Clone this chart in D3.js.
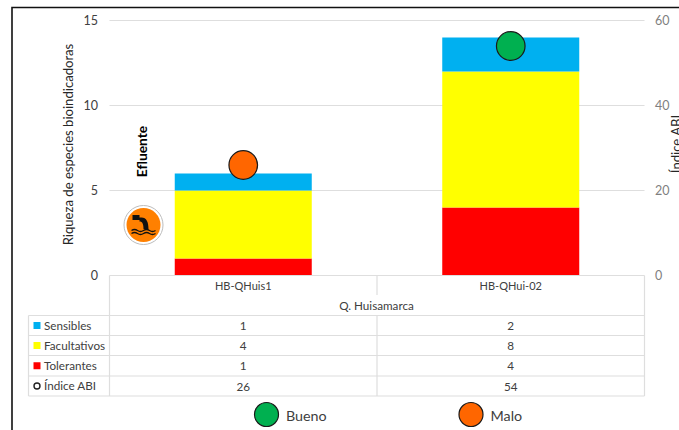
<!DOCTYPE html>
<html>
<head>
<meta charset="utf-8">
<script src="https://cdn.jsdelivr.net/npm/d3@7"></script>
<style>
html,body{margin:0;padding:0;background:#fff;overflow:hidden}
svg{display:block}
text{font-family:Lato,"Open Sans",sans-serif}
</style>
</head>
<body>
<svg id="chart" width="679" height="430"></svg>
<script>
const categories = ["HB-QHuis1", "HB-QHui-02"];
const groupLabel = "Q. Huisamarca";
const seriesNames = ["Tolerantes", "Facultativos", "Sensibles"];
const tolerantes = [1, 4];
const facultativos = [4, 8];
const sensibles = [1, 2];
const indiceABI = [26, 54];
const abiClass = ["Malo", "Bueno"];
const leftTicks = [0, 5, 10, 15];
const rightTicks = [0, 20, 40, 60];
const seriesColors = { Tolerantes: "#ff0000", Facultativos: "#ffff00", Sensibles: "#00b0f0" };
const classColors = { Bueno: "#00b050", Malo: "#ff6600" };
const legendClasses = ["Bueno", "Malo"];
const tableRows = [
  { name: "Sensibles", values: sensibles },
  { name: "Facultativos", values: facultativos },
  { name: "Tolerantes", values: tolerantes },
  { name: "Índice ABI", values: indiceABI }
];

const GRID = "#dedede", TEXT = "#404040", MUTED = "#7f7f7f";
const svg = d3.select("#chart");

// outer frame, open on the right and bottom
svg.append("path").attr("d", d3.line()([[12, 430], [12, 7.5], [679, 7.5]]))
  .attr("fill", "none").attr("stroke", "#111").attr("stroke-width", 1.6);

const x = d3.scaleBand().domain(categories).range([109.5, 644.5]).paddingInner(0).paddingOuter(0);
const y = d3.scaleLinear().domain([0, 15]).range([275.5, 20.5]);
const yRight = d3.scaleLinear().domain([0, 60]).range([275.5, 20.5]);

// gridlines
svg.append("g").selectAll("line").data(leftTicks.filter(d => d > 0)).join("line")
  .attr("x1", x.range()[0]).attr("x2", x.range()[1])
  .attr("y1", d => y(d)).attr("y2", d => y(d))
  .attr("stroke", GRID).attr("stroke-width", 1.2);

// left and right axes
const axisL = svg.append("g").attr("transform", "translate(109,0)")
  .call(d3.axisLeft(y).tickValues(leftTicks).tickSize(0).tickPadding(11));
axisL.select(".domain").remove();
axisL.selectAll("text").attr("font-size", 12.5).attr("fill", TEXT).style("font-family", "Lato");

const axisR = svg.append("g").attr("transform", "translate(644,0)")
  .call(d3.axisRight(yRight).tickValues(rightTicks).tickSize(0).tickPadding(11));
axisR.select(".domain").remove();
axisR.selectAll("text").attr("font-size", 12.5).attr("fill", MUTED).style("font-family", "Lato");

svg.append("text").attr("transform", "translate(73,144.5) rotate(-90)")
  .attr("text-anchor", "middle").attr("font-size", 13.1).attr("fill", "#262626")
  .text("Riqueza de especies bioindicadoras");
svg.append("text").attr("transform", "translate(681,144) rotate(-90)")
  .attr("text-anchor", "middle").attr("font-size", 13.1).attr("fill", "#262626")
  .text("Índice ABI");

// stacked bars
const stackRows = categories.map((c, i) => ({
  category: c,
  Tolerantes: tolerantes[i],
  Facultativos: facultativos[i],
  Sensibles: sensibles[i]
}));
const layers = d3.stack().keys(seriesNames)(stackRows);
const barW = 137;
svg.append("g").selectAll("g").data(layers).join("g")
  .attr("fill", d => seriesColors[d.key])
  .selectAll("rect").data(d => d).join("rect")
  .attr("x", d => x(d.data.category) + x.bandwidth() / 2 - barW / 2)
  .attr("width", barW)
  .attr("y", d => y(d[1]))
  .attr("height", d => y(d[0]) - y(d[1]));

// ABI markers on the secondary scale
svg.append("g").selectAll("circle").data(indiceABI).join("circle")
  .attr("cx", (d, i) => x(categories[i]) + x.bandwidth() / 2)
  .attr("cy", d => yRight(d))
  .attr("r", 14.3)
  .attr("fill", (d, i) => classColors[abiClass[i]])
  .attr("stroke", "#1a1a1a").attr("stroke-width", 1.2);

// data table under the plot
const rowLines = [315.5, 335.5, 355.5, 376, 396];
const tableLeft = 28.5, tableRight = x.range()[1], firstCol = x.range()[0], midCol = x(categories[1]);
const table = svg.append("g").attr("stroke", GRID).attr("stroke-width", 1.2);
table.append("line").attr("x1", firstCol).attr("x2", tableRight).attr("y1", 275.5).attr("y2", 275.5);
table.selectAll(".row").data(rowLines).join("line").attr("class", "row")
  .attr("x1", tableLeft).attr("x2", tableRight).attr("y1", d => d).attr("y2", d => d);
[[tableLeft, 315.5, 396], [firstCol, 275.5, 396], [tableRight, 275.5, 396], [midCol, 275.5, 295], [midCol, 315.5, 396]]
  .forEach(([vx, y1, y2]) => table.append("line").attr("x1", vx).attr("x2", vx).attr("y1", y1).attr("y2", y2));

const cellText = (tx, ty, s, anchor, size) => svg.append("text").attr("x", tx).attr("y", ty)
  .attr("text-anchor", anchor || "middle").attr("dominant-baseline", "central")
  .attr("font-size", size || 11.7).attr("fill", TEXT).text(s);

categories.forEach(c => cellText(x(c) + x.bandwidth() / 2, 285, c, "middle", 11));
cellText(376.5, 305, groupLabel);

tableRows.forEach((row, r) => {
  const cy = (rowLines[r] + rowLines[r + 1]) / 2;
  if (row.name === "Índice ABI") {
    svg.append("circle").attr("cx", 37).attr("cy", cy).attr("r", 3)
      .attr("fill", "#fff").attr("stroke", "#222").attr("stroke-width", 1.4);
  } else {
    svg.append("rect").attr("x", 33.5).attr("y", cy - 3.5).attr("width", 7).attr("height", 7)
      .attr("fill", seriesColors[row.name]);
  }
  cellText(44, cy - 1, row.name, "start");
  row.values.forEach((v, i) => cellText(x(categories[i]) + x.bandwidth() / 2, cy - 0.5, v));
});

// effluent annotation: outfall pipe badge and rotated label
svg.append("text").attr("transform", "translate(147,151.5) rotate(-90)")
  .attr("text-anchor", "middle").attr("font-size", 13.8).attr("font-weight", 700).attr("fill", "#000")
  .text("Efluente");
const badge = svg.append("g").attr("transform", "translate(143.5,225)");
badge.append("circle").attr("r", 19.5).attr("fill", "#fff").attr("stroke", "#bdbdbd").attr("stroke-width", 1);
badge.append("circle").attr("r", 17).attr("fill", "#ff8000");
badge.append("path").attr("d", "M-11,-10H-4V-7.5H-2C3,-7.5 5,-3 5,4H0C0,-1 -1,-3.5 -4,-3.5V-5H-11Z").attr("fill", "#111");
const wave = "M-12,0q3,-2 6,0t6,0t6,0t6,0";
[5.5, 8.5].forEach(dy => badge.append("path").attr("d", wave).attr("transform", `translate(0,${dy})`)
  .attr("fill", "none").attr("stroke", "#111").attr("stroke-width", 1.3));

// class legend under the table
const legendX = { Bueno: 266.5, Malo: 471 };
legendClasses.forEach(k => {
  svg.append("circle").attr("cx", legendX[k]).attr("cy", 414.5).attr("r", 12)
    .attr("fill", classColors[k]).attr("stroke", "#1a1a1a").attr("stroke-width", 1.2);
  svg.append("text").attr("x", legendX[k] + 19.5).attr("y", 415).attr("dominant-baseline", "central")
    .attr("font-size", 14.3).attr("fill", TEXT).text(k);
});
</script>
</body>
</html>
